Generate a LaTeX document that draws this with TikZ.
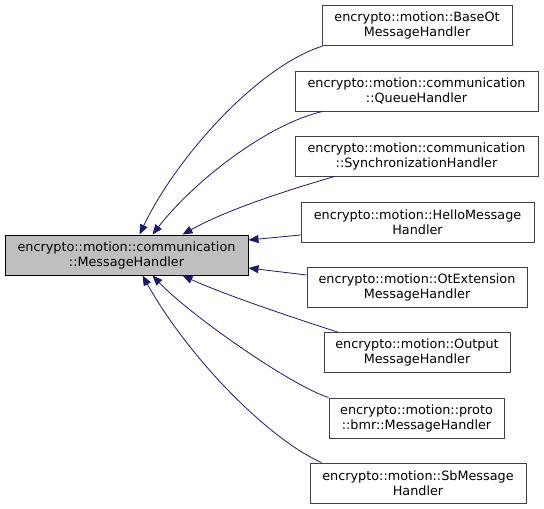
\documentclass[tikz,border=0pt]{standalone}
\usepackage{fontspec}
\setmainfont{DejaVu Sans}
\usetikzlibrary{arrows.meta}
\definecolor{edgecol}{HTML}{191970}
\definecolor{mainfill}{HTML}{BFBFBF}
\definecolor{boxline}{HTML}{404040}
\tikzset{
  cls/.style={draw=boxline, line width=1pt, fill=white, inner sep=0pt, minimum height=40pt,
    align=center, font=\fontsize{12.8pt}{15pt}\selectfont},
  maincls/.style={cls, draw=black, fill=mainfill},
  inh/.style={draw=edgecol, line width=0.8pt, -{Triangle[length=10pt,width=8pt]}}
}
\begin{document}
\begin{tikzpicture}[x=1pt,y=-1pt]
\useasboundingbox (0,0) rectangle (544,509);
\node[maincls, minimum width=243pt] (main) at (126.5,255) {encrypto::motion::communication\\::MessageHandler};
\node[cls, minimum width=190pt] (baseot) at (417,25.5) {encrypto::motion::BaseOt\\MessageHandler};
\node[cls, minimum width=243pt] (queue) at (416.5,91) {encrypto::motion::communication\\::QueueHandler};
\node[cls, minimum width=243pt] (sync) at (416.5,156) {encrypto::motion::communication\\::SynchronizationHandler};
\node[cls, minimum width=233pt] (hello) at (417.5,222) {encrypto::motion::HelloMessage\\Handler};
\node[cls, minimum width=220pt] (otext) at (417,287) {encrypto::motion::OtExtension\\MessageHandler};
\node[cls, minimum width=186pt] (output) at (417,352.5) {encrypto::motion::Output\\MessageHandler};
\node[cls, minimum width=175pt] (bmr) at (416.5,418) {encrypto::motion::proto\\::bmr::MessageHandler};
\node[cls, minimum width=216pt] (sb) at (418,483) {encrypto::motion::SbMessage\\Handler};

\draw[inh] ([xshift=1pt]baseot.south west) .. controls (255,68) and (175,160) .. ([xshift=135pt]main.north west);
\draw[inh] ([xshift=28pt]queue.south west) .. controls (268,124) and (195,180) .. ([xshift=148pt]main.north west);
\draw[inh] ([xshift=40pt]sync.south west) .. controls (295,188) and (230,208) .. ([xshift=178pt]main.north west);
\draw[inh] ([yshift=-13pt]hello.west) -- ([yshift=15pt]main.east);
\draw[inh] ([yshift=12pt]otext.west) -- ([yshift=-13pt]main.east);
\draw[inh] ([xshift=14pt]output.north west) .. controls (300,320) and (225,295) .. ([xshift=178pt]main.south west);
\draw[inh] (bmr.north west) .. controls (290,385) and (190,315) .. ([xshift=148pt]main.south west);
\draw[inh] ([xshift=12pt]sb.north west) .. controls (270,440) and (190,360) .. ([xshift=138pt]main.south west);
\end{tikzpicture}
\end{document}
